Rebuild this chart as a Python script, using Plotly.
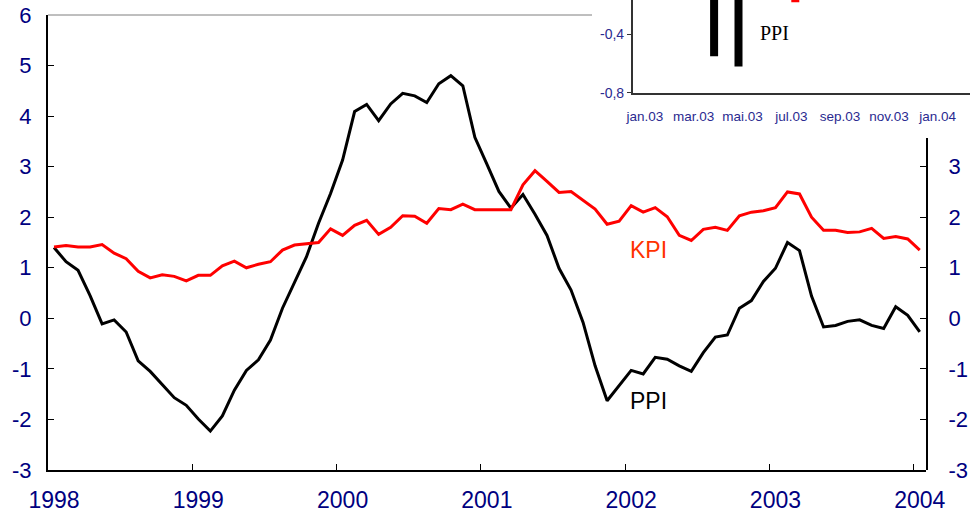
import pandas as pd
import plotly.graph_objects as go

# monthly 12-month growth, jan 1998 - jan 2004
months = pd.period_range("1998-01", "2004-01", freq="M")
ppi = [
    1.40, 1.12, 0.95, 0.45, -0.11, -0.03, -0.27, -0.84, -1.05, -1.30, -1.57, -1.72,
    -1.99, -2.23, -1.93, -1.42, -1.03, -0.82, -0.43, 0.20, 0.71, 1.22, 1.88, 2.47,
    3.13, 4.09, 4.23, 3.91, 4.24, 4.45, 4.40, 4.27, 4.64, 4.80, 4.60, 3.58,
    3.05, 2.51, 2.18, 2.45, 2.06, 1.64, 0.99, 0.56, -0.08, -0.94, -1.63, -1.32,
    -1.03, -1.10, -0.77, -0.81, -0.94, -1.05, -0.68, -0.37, -0.33, 0.20, 0.35, 0.73,
    0.99, 1.50, 1.34, 0.44, -0.17, -0.14, -0.06, -0.03, -0.14, -0.20, 0.23, 0.06,
    -0.27,
]
kpi = [
    1.41, 1.44, 1.41, 1.41, 1.46, 1.29, 1.18, 0.93, 0.80, 0.86, 0.83, 0.74,
    0.85, 0.85, 1.04, 1.13, 1.00, 1.07, 1.12, 1.35, 1.45, 1.47, 1.50, 1.77,
    1.64, 1.84, 1.94, 1.66, 1.80, 2.03, 2.02, 1.88, 2.17, 2.15, 2.26, 2.15,
    2.15, 2.15, 2.15, 2.64, 2.92, 2.71, 2.49, 2.51, 2.33, 2.16, 1.86, 1.92,
    2.23, 2.10, 2.19, 2.01, 1.64, 1.54, 1.76, 1.80, 1.74, 2.03, 2.10, 2.13,
    2.19, 2.50, 2.46, 2.00, 1.74, 1.74, 1.70, 1.71, 1.78, 1.58, 1.62, 1.57,
    1.35,
]
year_ticks = [1998, 1999, 2000, 2001, 2002, 2003, 2004]
left_ticks = [-3, -2, -1, 0, 1, 2, 3, 4, 5, 6]
right_ticks = [-3, -2, -1, 0, 1, 2, 3]

# inset: monthly change jan.03 - jan.04 (only the visible part of the bars)
inset_labels = ["jan.03", "feb.03", "mar.03", "apr.03", "mai.03", "jun.03", "jul.03",
                "aug.03", "sep.03", "okt.03", "nov.03", "des.03", "jan.04"]
inset_ppi = [None, None, None, -0.55, -0.62, None, None, None, None, None, None, None, None]
inset_kpi = [None, None, None, None, None, None, -0.18, None, None, None, None, None, None]
inset_yticks = [-0.8, -0.4]

x = [p.year + (p.month - 0.5) / 12 for p in months]
inset_x = list(range(len(inset_labels)))

NAVY = "#000080"
FONT = "Liberation Sans, Arial, sans-serif"

fig = go.Figure()
fig.add_trace(go.Scatter(x=x, y=ppi, mode="lines", name="PPI",
                         line=dict(color="black", width=3)))
fig.add_trace(go.Scatter(x=x, y=kpi, mode="lines", name="KPI", yaxis="y2",
                         line=dict(color="#ff0000", width=3)))
fig.add_trace(go.Bar(x=inset_x, y=inset_ppi, xaxis="x3", yaxis="y3",
                     marker=dict(color="black", line=dict(width=0))))
fig.add_trace(go.Bar(x=inset_x, y=inset_kpi, xaxis="x3", yaxis="y3",
                     marker=dict(color="#ff0000", line=dict(width=0))))

axis_common = dict(showgrid=False, zeroline=False, automargin=False)

fig.update_layout(
    width=970, height=520,
    margin=dict(l=48, r=0, t=0, b=50),
    paper_bgcolor="white", plot_bgcolor="rgba(0,0,0,0)",
    showlegend=False,
    barmode="group", bargap=0.344, bargroupgap=0,
    font=dict(family=FONT, color=NAVY),
    xaxis=dict(
        domain=[0, 878 / 922], range=[1998, 2004.085],
        tickvals=year_ticks, ticktext=[str(v) for v in year_ticks],
        ticks="inside", ticklen=6, tickwidth=1, tickcolor="black",
        showline=True, linecolor="black", linewidth=2,
        tickfont=dict(size=23, color=NAVY),
        ticklabelshift=6, ticklabelstandoff=8,
        **axis_common,
    ),
    yaxis=dict(
        domain=[0, 455 / 470], range=[-3, 6],
        tickvals=left_ticks, ticktext=[str(v) for v in left_ticks],
        ticks="inside", ticklen=6, tickwidth=1, tickcolor="black",
        showline=True, linecolor="black", linewidth=2,
        tickfont=dict(size=22, color=NAVY),
        ticklabelstandoff=10,
        **axis_common,
    ),
    yaxis2=dict(
        domain=[0, 332 / 470], range=[-3, -3 + 332 / (455 / 9)],
        anchor="x", side="right",
        tickvals=right_ticks, ticktext=[str(v) for v in right_ticks],
        ticks="inside", ticklen=6, tickwidth=1, tickcolor="black",
        showline=True, linecolor="black", linewidth=2,
        tickfont=dict(size=22, color=NAVY),
        ticklabelstandoff=16,
        **axis_common,
    ),
    xaxis3=dict(
        domain=[(632.7 - 48) / 922, 1], range=[-0.5, -0.5 + (970 - 632.7) / 24.4],
        anchor="y3",
        tickvals=inset_x[::2], ticktext=inset_labels[::2],
        ticks="", showline=True, linecolor="#333333", linewidth=1.5,
        tickfont=dict(size=13.5, color="#2a2a90"),
        ticklabelstandoff=10,
        **axis_common,
    ),
    yaxis3=dict(
        domain=[(470 - 92.7) / 470, 1], range=[-0.8, -0.8 + 92.7 / 146],
        anchor="x3",
        tickvals=inset_yticks, ticktext=[str(v).replace(".", ",") for v in inset_yticks],
        ticks="outside", ticklen=4, tickcolor="#333333",
        showline=True, linecolor="#333333", linewidth=1.5,
        tickfont=dict(size=14, color="#2a2a90"),
        **axis_common,
    ),
    shapes=[
        # thin top border of the main plot, cut off by the inset
        dict(type="line", xref="x domain", yref="y domain",
             x0=0, x1=(592 - 48) / 878, y0=1, y1=1,
             line=dict(color="#7f7f7f", width=1)),
    ],
    annotations=[
        dict(x=2002.16, y=1.35, yref="y", xref="x", text="KPI", showarrow=False,
             font=dict(size=23, color="#ff3300", family=FONT)),
        dict(x=2002.16, y=-1.63, yref="y", xref="x", text="PPI", showarrow=False,
             font=dict(size=23, color="black", family=FONT)),
        dict(x=5.33, y=-0.389, xref="x3", yref="y3", text="PPI", showarrow=False,
             font=dict(size=20, color="black", family="Liberation Serif, Times New Roman, serif")),
    ],
)

# drop the default page margin so the figure sits at the window's corner
fig.write_html("out.html", config={"displayModeBar": False},
               post_script="document.body.style.margin='0';")
